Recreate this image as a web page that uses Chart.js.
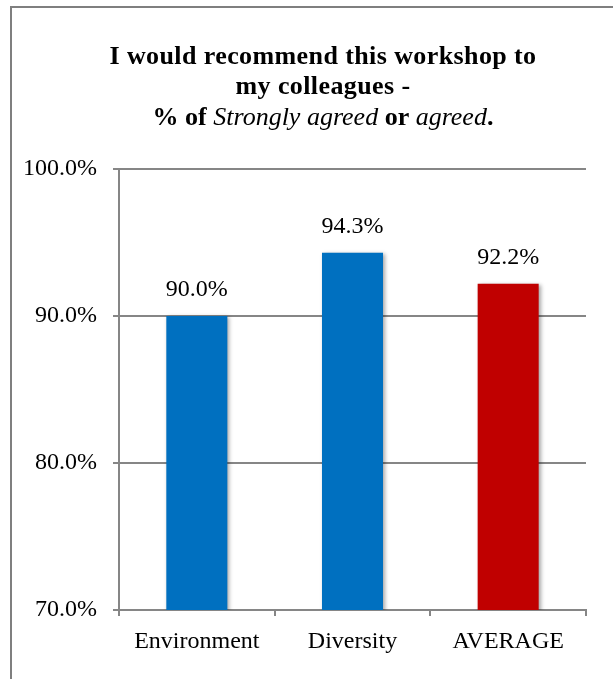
<!DOCTYPE html>
<html><head><meta charset="utf-8">
<script src="https://cdn.jsdelivr.net/npm/chart.js@4.4.0/dist/chart.umd.min.js"></script>
<style>html,body{margin:0;padding:0;background:#fff;}#wrap{width:613px;height:679px;position:relative}</style>
</head><body><div id="wrap"><canvas id="c" width="613" height="679"></canvas></div>
<script>
const categories = ['Environment', 'Diversity', 'AVERAGE'];
const values = [90.0, 94.3, 92.2];
const barColors = ['#0070C0', '#0070C0', '#C00000'];
const yMin = 70, yMax = 100, yStep = 10;
const titleLine1 = 'I would recommend this workshop to';
const titleLine2 = 'my colleagues -';
const titleLine3Text = ['% of ', 'Strongly agreed', ' or ', 'agreed', '.'];
const titleLine3Italic = [false, true, false, true, false];

const SERIF = "'Liberation Serif', 'Times New Roman', serif";
const GRID = '#868686';

const decor = {
  id: 'decor',
  beforeDraw(chart) {
    const ctx = chart.ctx;
    ctx.save();
    ctx.fillStyle = '#fff';
    ctx.fillRect(0, 0, chart.width, chart.height);
    ctx.strokeStyle = '#7f7f7f';
    ctx.lineWidth = 2;
    ctx.strokeRect(11, 7, chart.width + 40, chart.height + 40);
    ctx.restore();
  },
  beforeDatasetsDraw(chart) {
    const ctx = chart.ctx;
    ctx.save();
    ctx.shadowColor = 'rgba(0,0,0,0.35)';
    ctx.shadowBlur = 4;
    ctx.shadowOffsetX = 2;
    ctx.shadowOffsetY = 1;
  },
  afterDatasetsDraw(chart) {
    const ctx = chart.ctx;
    ctx.restore();
    ctx.save();
    ctx.font = '24px ' + SERIF;
    ctx.fillStyle = '#000';
    ctx.textAlign = 'center';
    ctx.textBaseline = 'alphabetic';
    const meta = chart.getDatasetMeta(0);
    meta.data.forEach((bar, i) => {
      ctx.fillText(values[i].toFixed(1) + '%', bar.x, bar.y - 20);
    });
    ctx.restore();
  },
  afterDraw(chart) {
    const ctx = chart.ctx;
    const cx = 323;
    ctx.save();
    ctx.fillStyle = '#000';
    ctx.textBaseline = 'alphabetic';
    ctx.textAlign = 'left';
    const bold = 'bold 26px ' + SERIF;
    const ital = 'italic 26px ' + SERIF;
    ctx.font = bold;
    if ('letterSpacing' in ctx) ctx.letterSpacing = '0.4px';
    let w = ctx.measureText(titleLine1).width;
    ctx.fillText(titleLine1, cx - w / 2, 64);
    w = ctx.measureText(titleLine2).width;
    ctx.fillText(titleLine2, cx - w / 2, 94);
    if ('letterSpacing' in ctx) ctx.letterSpacing = '0px';
    let total = 0;
    titleLine3Text.forEach((t, i) => { ctx.font = titleLine3Italic[i] ? ital : bold; total += ctx.measureText(t).width; });
    let x = cx - total / 2;
    titleLine3Text.forEach((t, i) => {
      ctx.font = titleLine3Italic[i] ? ital : bold;
      ctx.fillText(t, x, 125);
      x += ctx.measureText(t).width;
    });
    ctx.restore();
  }
};

new Chart(document.getElementById('c'), {
  type: 'bar',
  data: {
    labels: categories,
    datasets: [{
      data: values,
      backgroundColor: barColors,
      borderWidth: 0,
      categoryPercentage: 1,
      barPercentage: 0.392
    }]
  },
  options: {
    responsive: false,
    animation: false,
    devicePixelRatio: 1,
    layout: { padding: { top: 169, right: 27, bottom: 0, left: 0 } },
    plugins: { legend: { display: false }, tooltip: { enabled: false }, title: { display: false } },
    scales: {
      x: {
        offset: true,
        grid: { display: true, drawOnChartArea: false, drawTicks: true, tickLength: 6, color: GRID, lineWidth: 2, offset: true },
        border: { display: true, color: GRID, width: 2 },
        ticks: { font: { family: SERIF, size: 24 }, color: '#000', padding: 11, maxRotation: 0 },
        afterFit(s) { s.height = 69; }
      },
      y: {
        min: yMin, max: yMax,
        grid: { color: GRID, lineWidth: 2, tickLength: 6, drawTicks: true },
        border: { display: true, color: GRID, width: 2 },
        ticks: { stepSize: yStep, font: { family: SERIF, size: 24 }, color: '#000', padding: 16,
          callback: v => v.toFixed(1) + '%' },
        afterFit(s) { s.width = 119; }
      }
    }
  },
  plugins: [decor]
});
</script>
</body></html>
